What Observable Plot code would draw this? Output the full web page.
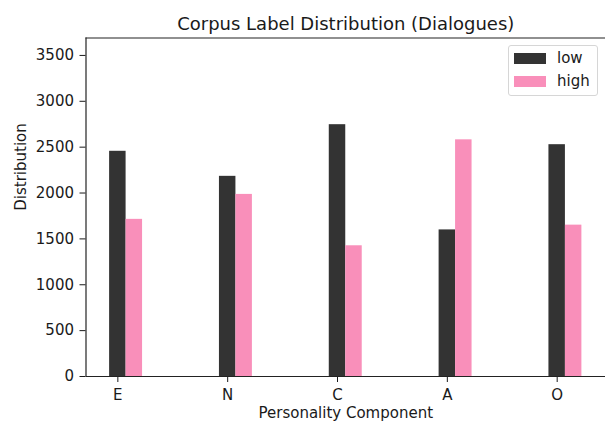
<!DOCTYPE html>
<html>
<head>
<meta charset="utf-8">
<script src="https://cdn.jsdelivr.net/npm/d3@7"></script>
<script src="https://cdn.jsdelivr.net/npm/@observablehq/plot@0.6"></script>
<style>
  html, body { margin: 0; padding: 0; background: #fff; overflow: hidden; }
  #wrap { position: relative; width: 605px; height: 421px; overflow: hidden; font-family: "DejaVu Sans", sans-serif; }
  #wrap svg { overflow: visible; }
  .legend { position: absolute; left: 508px; top: 45px; width: 90px; height: 51px;
    border: 1px solid #d6d6d6; border-radius: 3px; background: rgba(255,255,255,0.8); box-sizing: border-box; }
  .legend .sw { position: absolute; left: 5px; width: 32px; height: 11px; }
  .legend .lb { position: absolute; left: 48px; font-size: 15px; line-height: 15px; color: #1a1a1a; }
</style>
</head>
<body>
<div id="wrap"></div>
<script>
// ---- data ----
const components = ["E", "N", "C", "A", "O"];
const lowValues  = [2455, 2182, 2745, 1598, 2527];
const highValues = [1713, 1985, 1425, 2580, 1650];
const seriesNames = ["low", "high"];
const seriesColors = ["#333333", "#f98fba"];
const yTicks = [0, 500, 1000, 1500, 2000, 2500, 3000, 3500];
const xDomain = [-0.29, 4.44];
const yDomain = [0, 3690];
const titleText = "Corpus Label Distribution (Dialogues)";
const xLabelText = "Personality Component";
const yLabelText = "Distribution";

// ---- build table (matplotlib-style offset bars, width 0.15) ----
const barW = 0.15;
const rows = components.flatMap((c, i) => [
  {comp: c, series: "low",  value: lowValues[i],  x1: i - barW / 2, x2: i + barW / 2},
  {comp: c, series: "high", value: highValues[i], x1: i + barW / 2, x2: i + 1.5 * barW}
]);

const chart = Plot.plot({
  width: 605,
  height: 421,
  marginLeft: 85.5,
  marginRight: 0,
  marginTop: 37.5,
  marginBottom: 45,
  style: {fontFamily: "DejaVu Sans, sans-serif", fontSize: "15px", color: "#1a1a1a", background: "#fff"},
  x: {domain: xDomain, ticks: [0, 1, 2, 3, 4], tickFormat: i => components[i], tickSize: 6, tickPadding: 7, label: null},
  y: {domain: yDomain, ticks: yTicks, tickFormat: d => String(d), tickSize: 6, tickPadding: 6, label: null},
  color: {domain: seriesNames, range: seriesColors},
  marks: [
    Plot.rect(rows, {x1: "x1", x2: "x2", y1: () => 0, y2: "value", fill: "series"}),
    // spines: left, bottom, top (right spine is outside the cropped picture)
    Plot.ruleY(yDomain, {stroke: "#222", strokeWidth: 1.2}),
    Plot.ruleX([xDomain[0]], {stroke: "#222", strokeWidth: 1.2}),
    Plot.text([titleText], {text: d => d, frameAnchor: "top", lineAnchor: "bottom", dy: -8.5, fontSize: 18, fill: "#1a1a1a"}),
    Plot.text([xLabelText], {text: d => d, frameAnchor: "bottom", lineAnchor: "bottom", dy: 41, fontSize: 15, fill: "#1a1a1a"}),
    Plot.text([yLabelText], {text: d => d, frameAnchor: "left", lineAnchor: "bottom", rotate: -90, dx: -60.5, dy: 3.5, fontSize: 15, fill: "#1a1a1a"})
  ]
});

const wrap = document.getElementById("wrap");
wrap.appendChild(chart);

// legend
const legend = document.createElement("div");
legend.className = "legend";
seriesNames.forEach((name, k) => {
  const sw = document.createElement("div");
  sw.className = "sw";
  sw.style.top = (7 + k * 23) + "px";
  sw.style.background = seriesColors[k];
  legend.appendChild(sw);
  const lb = document.createElement("div");
  lb.className = "lb";
  lb.style.top = (5 + k * 23) + "px";
  lb.textContent = name;
  legend.appendChild(lb);
});
wrap.appendChild(legend);
</script>
</body>
</html>
